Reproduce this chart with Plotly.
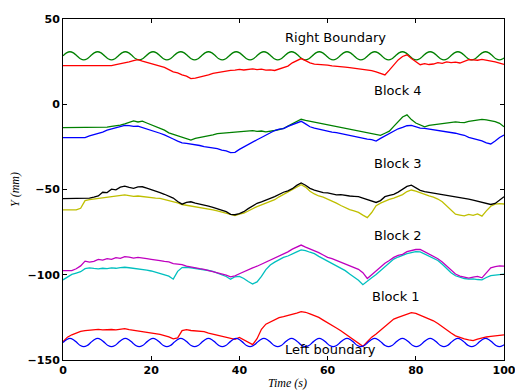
import plotly.graph_objects as go

# ---- boundary sinusoids (sampled every eighth of a period) ----
T_SINE = [0, 0.79, 1.57, 2.36, 3.14, 3.93, 4.71, 5.50,
          6.28, 7.07, 7.85, 8.64, 9.42, 10.21, 11.00, 11.78,
          12.57, 13.35, 14.14, 14.92, 15.71, 16.49, 17.28, 18.06,
          18.85, 19.63, 20.42, 21.21, 21.99, 22.78, 23.56, 24.35,
          25.13, 25.92, 26.70, 27.49, 28.27, 29.06, 29.85, 30.63,
          31.42, 32.20, 32.99, 33.77, 34.56, 35.34, 36.13, 36.91,
          37.70, 38.48, 39.27, 40.06, 40.84, 41.63, 42.41, 43.20,
          43.98, 44.77, 45.55, 46.34, 47.12, 47.91, 48.69, 49.48,
          50.27, 51.05, 51.84, 52.62, 53.41, 54.19, 54.98, 55.76,
          56.55, 57.33, 58.12, 58.90, 59.69, 60.48, 61.26, 62.05,
          62.83, 63.62, 64.40, 65.19, 65.97, 66.76, 67.54, 68.33,
          69.12, 69.90, 70.69, 71.47, 72.26, 73.04, 73.83, 74.61,
          75.40, 76.18, 76.97, 77.75, 78.54, 79.33, 80.11, 80.90,
          81.68, 82.47, 83.25, 84.04, 84.82, 85.61, 86.39, 87.18,
          87.96, 88.75, 89.54, 90.32, 91.11, 91.89, 92.68, 93.46,
          94.25, 95.03, 95.82, 96.60, 97.39, 98.17, 98.96, 99.75, 100]
RIGHT_BOUNDARY = [28.4, 30.1, 30.8, 30.1, 28.4, 26.7, 26.0, 26.7,
                  28.4, 30.1, 30.8, 30.1, 28.4, 26.7, 26.0, 26.7,
                  28.4, 30.1, 30.8, 30.1, 28.4, 26.7, 26.0, 26.7,
                  28.4, 30.1, 30.8, 30.1, 28.4, 26.7, 26.0, 26.7,
                  28.4, 30.1, 30.8, 30.1, 28.4, 26.7, 26.0, 26.7,
                  28.4, 30.1, 30.8, 30.1, 28.4, 26.7, 26.0, 26.7,
                  28.4, 30.1, 30.8, 30.1, 28.4, 26.7, 26.0, 26.7,
                  28.4, 30.1, 30.8, 30.1, 28.4, 26.7, 26.0, 26.7,
                  28.4, 30.1, 30.8, 30.1, 28.4, 26.7, 26.0, 26.7,
                  28.4, 30.1, 30.8, 30.1, 28.4, 26.7, 26.0, 26.7,
                  28.4, 30.1, 30.8, 30.1, 28.4, 26.7, 26.0, 26.7,
                  28.4, 30.1, 30.8, 30.1, 28.4, 26.7, 26.0, 26.7,
                  28.4, 30.1, 30.8, 30.1, 28.4, 26.7, 26.0, 26.7,
                  28.4, 30.1, 30.8, 30.1, 28.4, 26.7, 26.0, 26.7,
                  28.4, 30.1, 30.8, 30.1, 28.4, 26.7, 26.0, 26.7,
                  28.4, 30.1, 30.8, 30.1, 28.4, 26.7, 26.0, 26.7, 27.2]
LEFT_BOUNDARY = [-139.8, -138.1, -137.3, -138.1, -139.8, -141.5, -142.2, -141.5,
                 -139.8, -138.1, -137.3, -138.1, -139.8, -141.5, -142.2, -141.5,
                 -139.8, -138.1, -137.3, -138.1, -139.8, -141.5, -142.2, -141.5,
                 -139.8, -138.1, -137.3, -138.1, -139.8, -141.5, -142.2, -141.5,
                 -139.8, -138.1, -137.3, -138.1, -139.8, -141.5, -142.2, -141.5,
                 -139.8, -138.1, -137.3, -138.1, -139.8, -141.5, -142.2, -141.5,
                 -139.8, -138.1, -137.3, -138.1, -139.8, -141.5, -142.2, -141.5,
                 -139.8, -138.1, -137.3, -138.1, -139.8, -141.5, -142.2, -141.5,
                 -139.8, -138.1, -137.3, -138.1, -139.8, -141.5, -142.2, -141.5,
                 -139.8, -138.1, -137.3, -138.1, -139.8, -141.5, -142.2, -141.5,
                 -139.8, -138.1, -137.3, -138.1, -139.8, -141.5, -142.2, -141.5,
                 -139.8, -138.1, -137.3, -138.1, -139.8, -141.5, -142.2, -141.5,
                 -139.8, -138.1, -137.3, -138.1, -139.8, -141.5, -142.2, -141.5,
                 -139.8, -138.1, -137.3, -138.1, -139.8, -141.5, -142.2, -141.5,
                 -139.8, -138.1, -137.3, -138.1, -139.8, -141.5, -142.2, -141.5,
                 -139.8, -138.1, -137.3, -138.1, -139.8, -141.5, -142.2, -141.5, -141.0]

# ---- block traces, one sample per second ----
T_GRID = [0, 1, 2, 3, 4, 5, 6, 7, 8, 9,
          10, 11, 12, 13, 14, 15, 16, 17, 18, 19,
          20, 21, 22, 23, 24, 25, 26, 27, 28, 29,
          30, 31, 32, 33, 34, 35, 36, 37, 38, 39,
          40, 41, 42, 43, 44, 45, 46, 47, 48, 49,
          50, 51, 52, 53, 54, 55, 56, 57, 58, 59,
          60, 61, 62, 63, 64, 65, 66, 67, 68, 69,
          70, 71, 72, 73, 74, 75, 76, 77, 78, 79,
          80, 81, 82, 83, 84, 85, 86, 87, 88, 89,
          90, 91, 92, 93, 94, 95, 96, 97, 98, 99, 100]

# Block 4
R4 = [22.6, 22.6, 22.6, 22.6, 22.6, 22.6, 22.6, 22.6, 22.6, 22.6,
      22.6, 22.6, 23.2, 23.6, 24.3, 24.8, 25.6, 26.2, 25.3, 24.6,
      23.5, 23.0, 22.1, 21.6, 20.3, 19.0, 18.4, 17.2, 16.5, 15.0,
      15.3, 15.8, 16.6, 17.2, 18.1, 18.6, 19.3, 19.4, 19.9, 20.0,
      20.4, 20.1, 20.6, 20.8, 20.3, 20.6, 20.0, 20.2, 19.8, 20.8,
      21.6, 22.4, 24.3, 25.8, 26.8, 25.6, 24.3, 23.5, 23.4, 22.9,
      23.0, 22.5, 22.4, 22.0, 21.8, 21.5, 21.2, 20.8, 20.6, 20.1,
      19.7, 19.0, 18.0, 17.2, 20.0, 23.0, 26.0, 28.0, 29.0, 26.8,
      25.2, 23.2, 23.8, 23.3, 23.6, 24.4, 24.0, 24.8, 24.4, 24.7,
      24.2, 25.4, 26.2, 26.0, 25.8, 26.3, 25.9, 25.5, 24.8, 24.1, 23.4]
G4 = [-13.7, -13.7, -13.7, -13.7, -13.7, -13.7, -13.7, -13.7, -13.7, -13.7,
      -13.4, -13.0, -12.8, -12.2, -11.5, -10.6, -9.8, -10.4, -9.9, -11.0,
      -12.0, -13.0, -14.1, -15.2, -16.8, -17.6, -18.8, -19.5, -20.4, -21.0,
      -20.0, -19.6, -18.9, -18.4, -18.0, -17.2, -17.0, -16.6, -16.4, -16.5,
      -15.9, -16.0, -15.6, -15.5, -15.9, -15.7, -16.2, -16.0, -15.4, -14.9,
      -14.2, -12.8, -11.4, -10.0, -8.8, -9.4, -9.9, -10.4, -11.0, -11.4,
      -12.1, -12.5, -12.8, -13.5, -14.0, -14.3, -15.0, -15.5, -16.0, -16.4,
      -16.9, -17.4, -18.2, -17.0, -15.8, -13.0, -10.0, -7.5, -6.2, -9.0,
      -11.0, -12.2, -13.2, -12.4, -12.0, -11.6, -11.3, -11.0, -10.6, -10.3,
      -10.6, -10.8, -10.1, -9.8, -9.4, -8.9, -9.2, -9.6, -10.2, -11.2, -13.2]
B4 = [-19.6, -19.6, -19.6, -19.6, -19.6, -19.6, -18.5, -17.8, -17.0, -16.3,
      -15.2, -14.6, -13.6, -13.0, -12.4, -12.5, -13.0, -12.8, -13.6, -14.2,
      -15.2, -16.0, -17.0, -18.0, -19.0, -20.4, -21.6, -22.6, -23.0, -23.3,
      -24.0, -24.2, -24.9, -25.3, -25.6, -26.0, -26.9, -27.3, -28.4, -28.2,
      -26.5, -25.0, -23.4, -22.2, -20.8, -19.5, -18.0, -16.8, -15.4, -14.6,
      -14.3, -13.0, -12.0, -10.8, -10.0, -11.5, -13.2, -14.0, -14.6, -15.2,
      -15.9, -16.3, -16.6, -17.2, -17.8, -18.3, -18.9, -19.3, -19.9, -20.4,
      -20.8, -21.6, -20.0, -18.5, -17.2, -15.6, -14.4, -13.6, -12.6, -12.4,
      -13.4, -14.0, -14.2, -14.6, -14.8, -15.0, -15.4, -15.9, -16.4, -17.0,
      -17.6, -18.2, -19.4, -20.0, -20.8, -21.5, -22.6, -23.3, -21.6, -19.5, -18.0]

# Block 3
K3 = [-55.4, -55.4, -55.4, -55.4, -55.4, -55.4, -55.0, -54.5, -53.8, -51.6,
      -51.8, -49.8, -50.2, -48.6, -48.0, -48.8, -49.3, -48.5, -48.4, -49.2,
      -50.0, -50.6, -51.8, -52.8, -54.0, -55.0, -57.0, -58.6, -57.5, -57.2,
      -58.0, -58.5, -59.2, -59.8, -60.5, -61.4, -62.3, -63.0, -64.6, -64.8,
      -64.2, -63.0, -61.2, -59.5, -58.1, -57.2, -56.0, -55.2, -54.2, -52.8,
      -51.6, -50.8, -49.5, -47.6, -46.2, -47.5, -49.3, -50.4, -51.2, -51.8,
      -52.0, -52.6, -53.2, -53.0, -53.5, -53.8, -54.0, -54.2, -55.0, -55.8,
      -56.6, -57.6, -56.5, -54.2, -53.4, -52.8, -51.5, -50.0, -48.2, -47.5,
      -49.0, -50.5, -51.2, -51.6, -52.0, -52.4, -52.8, -53.3, -53.6, -54.1,
      -54.6, -55.2, -55.6, -56.2, -56.8, -57.4, -58.1, -58.8, -58.2, -56.0, -54.2]
Y3 = [-62.0, -62.0, -62.0, -62.0, -61.0, -56.5, -55.9, -55.6, -55.4, -55.0,
      -54.7, -54.5, -54.0, -53.8, -53.2, -53.6, -54.0, -53.8, -54.2, -54.5,
      -54.8, -55.0, -55.2, -55.8, -56.2, -56.8, -57.8, -58.8, -59.2, -59.6,
      -60.0, -60.6, -61.0, -61.6, -62.0, -62.6, -63.3, -64.0, -64.8, -65.3,
      -64.5, -63.8, -62.6, -61.2, -60.0, -59.0, -58.0, -57.0, -56.0, -54.3,
      -52.8, -51.5, -50.0, -48.5, -47.2, -48.6, -51.0, -52.6, -53.8, -54.5,
      -55.6, -56.8, -58.0, -59.4, -60.6, -61.8, -62.5, -63.4, -65.0, -66.5,
      -63.5, -59.5, -58.0, -56.8, -55.8, -55.0, -54.0, -53.0, -51.2, -50.3,
      -51.0, -52.0, -53.0, -53.8, -54.5, -55.6, -57.2, -59.6, -62.5, -64.5,
      -65.0, -65.5, -64.6, -65.2, -64.3, -65.6, -62.5, -59.8, -58.6, -58.3, -58.5]

# Block 2
M2 = [-97.6, -97.6, -97.6, -96.5, -94.8, -92.0, -92.6, -92.2, -91.0, -91.4,
      -90.6, -91.0, -90.0, -90.4, -89.4, -89.6, -90.2, -89.8, -90.4, -90.6,
      -91.0, -91.2, -91.7, -92.2, -92.5, -93.5, -93.8, -94.0, -95.0, -95.6,
      -96.0, -96.4, -96.8, -97.4, -98.0, -98.8, -99.4, -100.2, -101.2, -100.6,
      -99.4, -98.2, -96.8, -96.0, -95.0, -93.8, -92.8, -91.7, -90.4, -89.0,
      -87.8, -86.6, -85.0, -83.6, -82.6, -83.8, -84.8, -85.8, -87.0, -88.4,
      -89.8, -90.6, -91.6, -92.4, -93.8, -94.6, -95.5, -96.8, -98.8, -102.2,
      -100.0, -97.6, -95.2, -93.2, -91.6, -89.8, -88.6, -88.0, -86.5, -85.8,
      -85.2, -85.1, -86.4, -87.8, -89.0, -90.6, -92.5, -94.8, -97.0, -99.6,
      -100.8, -101.2, -102.0, -101.4, -101.0, -101.8, -99.0, -96.0, -95.2, -94.8, -94.9]
C2 = [-103.0, -101.5, -99.8, -99.0, -98.2, -96.4, -96.0, -96.3, -96.5, -96.2,
      -96.4, -96.0, -96.2, -95.8, -95.6, -95.9, -96.2, -96.4, -96.8, -97.3,
      -97.8, -98.5, -99.2, -100.0, -100.8, -102.6, -98.0, -95.8, -95.6, -95.9,
      -96.2, -96.5, -96.8, -97.5, -98.0, -99.0, -99.8, -101.0, -102.6, -101.2,
      -101.0, -102.2, -104.0, -105.4, -104.2, -101.0, -97.0, -94.3, -92.6, -91.0,
      -89.8, -89.0, -88.0, -86.6, -85.4, -85.8, -86.8, -87.6, -89.2, -90.6,
      -91.8, -93.0, -94.8, -96.2, -97.6, -99.6, -101.6, -103.2, -105.8, -104.0,
      -101.8, -99.8, -97.6, -95.2, -93.0, -90.8, -89.6, -88.5, -87.6, -87.0,
      -86.5, -86.6, -87.8, -88.8, -90.2, -91.6, -93.8, -96.5, -98.8, -100.6,
      -101.6, -102.2, -102.6, -102.4, -102.8, -103.0, -101.6, -100.5, -100.2, -99.8, -99.6]

# Block 1
R1 = [-139.3, -136.6, -135.2, -134.0, -133.2, -132.8, -132.5, -132.4, -132.0, -132.3,
      -132.0, -132.1, -132.3, -131.9, -131.6, -132.2, -132.6, -132.8, -133.2, -133.6,
      -134.0, -134.6, -135.0, -135.7, -136.4, -137.6, -137.0, -132.8, -132.2, -132.7,
      -132.9, -133.0, -133.4, -134.2, -134.8, -135.6, -136.4, -136.8, -137.4, -137.9,
      -136.8, -138.2, -140.0, -141.0, -137.5, -132.0, -129.0, -127.6, -126.4, -125.2,
      -124.6, -124.0, -123.4, -122.5, -121.6, -122.0, -123.0, -123.8, -125.0, -126.6,
      -128.0, -129.4, -131.2, -132.8, -134.6, -136.2, -138.0, -140.0, -142.0, -139.2,
      -136.6, -134.8, -132.6, -130.4, -128.2, -126.0, -125.0, -124.2, -123.2, -122.2,
      -122.6, -123.6, -124.6, -125.8, -127.0, -128.6, -130.6, -132.6, -134.2, -135.8,
      -136.8, -137.6, -138.2, -138.6, -137.8, -137.0, -136.5, -136.2, -135.8, -135.5, -135.3]

LABELS = ["Right Boundary", "Block 4", "Block 3", "Block 2", "Block 1", "Left boundary"]
LABEL_T = [61.8, 75.9, 75.9, 75.9, 75.4, 60.6]
LABEL_Y = [38.9, 7.8, -34.5, -76.7, -112.5, -144.0]

X_TICKS = [0, 20, 40, 60, 80, 100]
Y_TICKS = [-150, -100, -50, 0, 50]
Y_TICK_TEXT = ["\u2212150", "\u2212100", "\u221250", "0", "50"]

fig = go.Figure()

def add_line(t, v, color, shape="linear"):
    fig.add_trace(go.Scatter(x=t, y=v, mode="lines", line=dict(color=color, width=1.3, shape=shape),
                             showlegend=False, hoverinfo="skip"))

add_line(T_SINE, RIGHT_BOUNDARY, "#008000", "spline")
add_line(T_GRID, R4, "#ff0000")
add_line(T_GRID, G4, "#008000")
add_line(T_GRID, B4, "#0000ff")
add_line(T_GRID, Y3, "#bfbf00")
add_line(T_GRID, K3, "#000000")
add_line(T_GRID, C2, "#00bfbf")
add_line(T_GRID, M2, "#bf00bf")
add_line(T_GRID, R1, "#ff0000")
add_line(T_SINE, LEFT_BOUNDARY, "#0000ff", "spline")

for txt, tx, ty in zip(LABELS, LABEL_T, LABEL_Y):
    fig.add_annotation(x=tx, y=ty, text=txt, showarrow=False, xanchor="center", yanchor="middle",
                       font=dict(family="DejaVu Sans", size=13, color="black"))

fig.add_annotation(xref="paper", yref="paper", x=0.508, y=-0.068, xanchor="center", yanchor="middle",
                   text="<i>Time</i> <i>(s)</i>", showarrow=False,
                   font=dict(family="Liberation Serif", size=12, color="black"))
fig.add_annotation(xref="paper", yref="paper", x=-0.11, y=0.5, xanchor="center", yanchor="middle",
                   text="<i>Y</i> <i>(mm)</i>", textangle=-90, showarrow=False,
                   font=dict(family="Liberation Serif", size=12, color="black"))

axis_common = dict(showgrid=False, zeroline=False, showline=True, linecolor="black", linewidth=1,
                   mirror="allticks", ticks="inside", ticklen=4, tickcolor="black",
                   ticklabeloverflow="allow", automargin=False,
                   tickfont=dict(family="DejaVu Sans", size=11, color="black", weight="bold"))
fig.update_xaxes(range=[0, 100], tickvals=X_TICKS, **axis_common)
fig.update_yaxes(range=[-150, 50], tickvals=Y_TICKS, ticktext=Y_TICK_TEXT, **axis_common)

fig.update_layout(width=515, height=391, margin=dict(l=63, r=11, t=19, b=31, autoexpand=False),
                  plot_bgcolor="white", paper_bgcolor="white")

# remove the default page margin so the 515x391 figure fills the window exactly
fig.write_html("out.html", config={"displayModeBar": False},
               post_script="document.body.style.margin='0';document.body.style.overflow='hidden';")
